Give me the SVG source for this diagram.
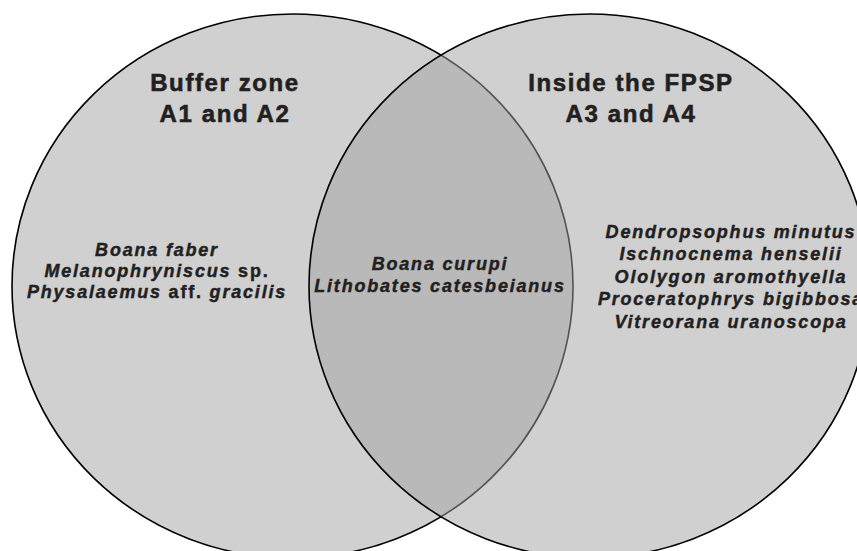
<svg xmlns="http://www.w3.org/2000/svg" width="857" height="551" viewBox="0 0 857 551">
<style>
.set{stroke:#000;stroke-width:1.6}
.hd{font-family:"Liberation Sans",Arial,sans-serif;font-weight:bold;font-size:24px;fill:#231f20;stroke:#231f20;stroke-width:0.6;text-anchor:middle;letter-spacing:1.6px}
.sp{font-family:"Liberation Sans",Arial,sans-serif;font-weight:bold;font-style:italic;font-size:18px;fill:#231f20;stroke:#231f20;stroke-width:0.45;text-anchor:middle;letter-spacing:1.8px}
.up{font-style:normal}
</style>
<rect width="857" height="551" fill="#fff"/>
<g id="buffer-zone">
<ellipse class="set" cx="292.5" cy="286" rx="280.5" ry="272" fill="#d0d0d0"/>
</g>
<g id="inside-fpsp">
<ellipse class="set" cx="589.5" cy="286" rx="280.5" ry="272" fill="#a3a3a3" fill-opacity="0.51"/>
</g>
<g id="connectors"></g>
<g id="labels-left">
<text class="hd" x="225" y="91">Buffer zone</text>
<text class="hd" x="225" y="122">A1 and A2</text>
<text class="sp" x="157" y="256">Boana faber</text>
<text class="sp" x="157" y="277">Melanophryniscus <tspan class="up">sp.</tspan></text>
<text class="sp" x="157" y="298">Physalaemus <tspan class="up">aff.</tspan> gracilis</text>
</g>
<g id="labels-middle">
<text class="sp" x="440" y="270">Boana curupi</text>
<text class="sp" x="440" y="292">Lithobates catesbeianus</text>
</g>
<g id="labels-right">
<text class="hd" x="631" y="91">Inside the FPSP</text>
<text class="hd" x="631" y="122">A3 and A4</text>
<text class="sp" x="731" y="238">Dendropsophus minutus</text>
<text class="sp" x="731" y="260">Ischnocnema henselii</text>
<text class="sp" x="731" y="283">Ololygon aromothyella</text>
<text class="sp" x="731" y="305">Proceratophrys bigibbosa</text>
<text class="sp" x="731" y="328">Vitreorana uranoscopa</text>
</g>
</svg>
